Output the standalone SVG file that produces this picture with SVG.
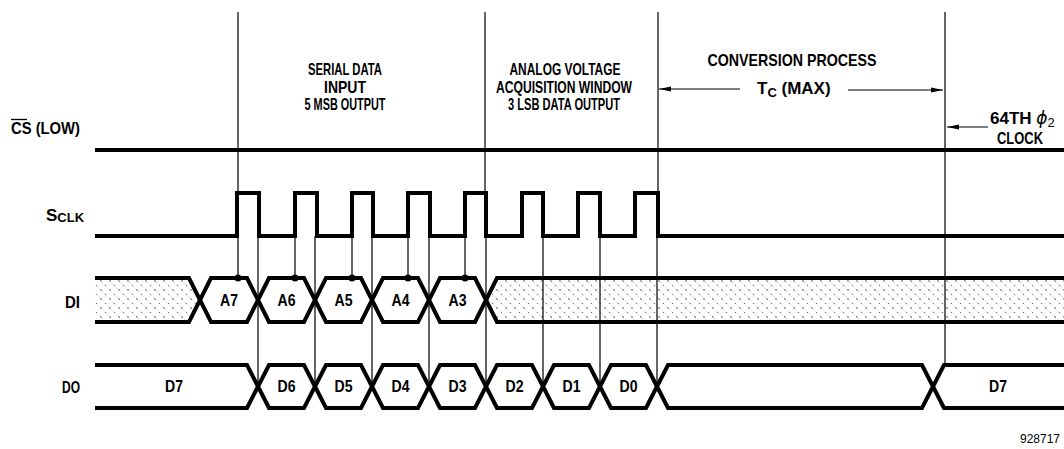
<svg xmlns="http://www.w3.org/2000/svg" width="1064" height="449" viewBox="0 0 1064 449">
<style>
  text { font-family: "Liberation Sans", Arial, sans-serif; font-weight: bold; fill: #000; }
  .t { font-size: 17px; }
  .hx { font-size: 17px; text-anchor: middle; }
  .sig { fill: none; stroke: #000; stroke-width: 4; stroke-linejoin: miter; }
  .bus { stroke: #000; stroke-width: 4; stroke-linejoin: miter; }
  .shade { fill: url(#dots); }
  .thin { stroke: #000; stroke-width: 1.2; fill: none; }
  .arr { stroke: #000; stroke-width: 1.2; fill: none; marker-end: url(#ah); }
  .note { font-family: "Liberation Sans", Arial, sans-serif; font-weight: normal; font-size: 12px; }
</style>
<defs>
  <pattern id="dots" width="9" height="9" patternUnits="userSpaceOnUse">
    <rect width="9" height="9" fill="#fff"/>
    <path d="M0,0 L9,9" stroke="#d0d0d0" stroke-width="0.5"/>
    <circle cx="2" cy="2" r="0.7" fill="#333"/>
    <circle cx="6.5" cy="6.5" r="0.6" fill="#555"/>
  </pattern>
  <marker id="ah" markerWidth="12" markerHeight="6" refX="12" refY="3" orient="auto" markerUnits="userSpaceOnUse">
    <path d="M0,0.5 L12,3 L0,5.5 z" fill="#000"/>
  </marker>
</defs>
<rect width="1064" height="449" fill="#fff"/>

<g id="cs">
  <text class="t" x="11" y="134" textLength="69" lengthAdjust="spacingAndGlyphs">CS (LOW)</text>
  <line x1="11" y1="119.5" x2="27" y2="119.5" stroke="#000" stroke-width="1.3"/>
  <line class="sig" x1="95" y1="150" x2="1064" y2="150"/>
</g>

<g id="sclk">
  <text class="t" x="46" y="221">S<tspan font-size="13" dy="1">CLK</tspan></text>
  <path class="sig" d="M95,236 H237 V193 H259 V236 H295 V193 H317 V236 H352 V193 H373 V236 H408 V193 H430 V236 H465 V193 H486 V236 H522 V193 H543 V236 H578 V193 H600 V236 H635 V193 H658 V236 H1064"/>
</g>

<g id="di">
  <text class="t" x="80" y="308" text-anchor="end" textLength="15" lengthAdjust="spacingAndGlyphs">DI</text>
  <path class="bus shade" d="M95,278 H189 L200,300 L189,322 H95"/>
  <path class="bus shade" d="M1064,278 H497 L486,300 L497,322 H1064"/>
  <path class="bus" fill="#fff" d="M200,300 L211,278 H247 L258,300 L247,322 H211 Z"/>
  <path class="bus" fill="#fff" d="M258,300 L269,278 H304 L315,300 L304,322 H269 Z"/>
  <path class="bus" fill="#fff" d="M315,300 L326,278 H361 L372,300 L361,322 H326 Z"/>
  <path class="bus" fill="#fff" d="M372,300 L383,278 H418 L429,300 L418,322 H383 Z"/>
  <path class="bus" fill="#fff" d="M429,300 L440,278 H475 L486,300 L475,322 H440 Z"/>
  <text class="hx" x="229" y="306" textLength="18" lengthAdjust="spacingAndGlyphs">A7</text>
  <text class="hx" x="286.5" y="306" textLength="18" lengthAdjust="spacingAndGlyphs">A6</text>
  <text class="hx" x="343.5" y="306" textLength="18" lengthAdjust="spacingAndGlyphs">A5</text>
  <text class="hx" x="400.5" y="306" textLength="18" lengthAdjust="spacingAndGlyphs">A4</text>
  <text class="hx" x="457.5" y="306" textLength="18" lengthAdjust="spacingAndGlyphs">A3</text>
</g>

<g id="do">
  <text class="t" x="80" y="393" text-anchor="end" textLength="18" lengthAdjust="spacingAndGlyphs">DO</text>
  <path class="bus" fill="#fff" d="M95,365 H247 L258,386.5 L247,408 H95"/>
  <path class="bus" fill="#fff" d="M258,386.5 L269,365 H304 L315,386.5 L304,408 H269 Z"/>
  <path class="bus" fill="#fff" d="M315,386.5 L326,365 H361 L372,386.5 L361,408 H326 Z"/>
  <path class="bus" fill="#fff" d="M372,386.5 L383,365 H418 L429,386.5 L418,408 H383 Z"/>
  <path class="bus" fill="#fff" d="M429,386.5 L440,365 H475 L486,386.5 L475,408 H440 Z"/>
  <path class="bus" fill="#fff" d="M486,386.5 L497,365 H532 L543,386.5 L532,408 H497 Z"/>
  <path class="bus" fill="#fff" d="M543,386.5 L554,365 H589 L600,386.5 L589,408 H554 Z"/>
  <path class="bus" fill="#fff" d="M600,386.5 L611,365 H646 L657,386.5 L646,408 H611 Z"/>
  <path class="bus" fill="#fff" d="M657,386.5 L668,365 H922 L933,386.5 L922,408 H668 Z"/>
  <path class="bus" fill="#fff" d="M1064,365 H944 L933,386.5 L944,408 H1064"/>
  <text class="hx" x="174" y="392" textLength="18" lengthAdjust="spacingAndGlyphs">D7</text>
  <text class="hx" x="286.5" y="392" textLength="18" lengthAdjust="spacingAndGlyphs">D6</text>
  <text class="hx" x="343.5" y="392" textLength="18" lengthAdjust="spacingAndGlyphs">D5</text>
  <text class="hx" x="400.5" y="392" textLength="18" lengthAdjust="spacingAndGlyphs">D4</text>
  <text class="hx" x="457.5" y="392" textLength="18" lengthAdjust="spacingAndGlyphs">D3</text>
  <text class="hx" x="514.5" y="392" textLength="18" lengthAdjust="spacingAndGlyphs">D2</text>
  <text class="hx" x="571.5" y="392" textLength="18" lengthAdjust="spacingAndGlyphs">D1</text>
  <text class="hx" x="628.5" y="392" textLength="18" lengthAdjust="spacingAndGlyphs">D0</text>
  <text class="hx" x="998" y="392" textLength="18" lengthAdjust="spacingAndGlyphs">D7</text>
</g>

<g id="connectors">
  <path class="thin" d="M238,12 V193 M485,12 V193 M658,12 V193 M945,12 V365"/>
  <path class="thin" d="M238,236 V278 M295,236 V278 M352,236 V278 M408,236 V278 M465,236 V278"/>
  <path class="thin" d="M258,236 V386 M315,236 V386 M372,236 V386 M429,236 V386 M486,236 V386 M543,236 V386 M600,236 V386 M657,236 V386"/>
  <g fill="#000">
    <circle cx="238" cy="278" r="3.5"/>
    <circle cx="295" cy="278" r="3.5"/>
    <circle cx="352" cy="278" r="3.5"/>
    <circle cx="408" cy="278" r="3.5"/>
    <circle cx="465" cy="278" r="3.5"/>
  </g>
  <line class="arr" x1="740" y1="89" x2="659" y2="89"/>
  <line class="arr" x1="848" y1="90" x2="943" y2="90"/>
  <line class="arr" x1="988" y1="127" x2="947" y2="127"/>
</g>

<g id="labels">
  <text class="t" x="345" y="75" text-anchor="middle" textLength="74" lengthAdjust="spacingAndGlyphs">SERIAL DATA</text>
  <text class="t" x="345" y="93" text-anchor="middle" textLength="42" lengthAdjust="spacingAndGlyphs">INPUT</text>
  <text class="t" x="345" y="110" text-anchor="middle" textLength="81" lengthAdjust="spacingAndGlyphs">5 MSB OUTPUT</text>
  <text class="t" x="565" y="75" text-anchor="middle" textLength="111" lengthAdjust="spacingAndGlyphs">ANALOG VOLTAGE</text>
  <text class="t" x="564" y="93" text-anchor="middle" textLength="136" lengthAdjust="spacingAndGlyphs">ACQUISITION WINDOW</text>
  <text class="t" x="564" y="110" text-anchor="middle" textLength="112" lengthAdjust="spacingAndGlyphs">3 LSB DATA OUTPUT</text>
  <text class="t" x="792" y="66" text-anchor="middle" textLength="169" lengthAdjust="spacingAndGlyphs">CONVERSION PROCESS</text>
  <text class="t" x="757" y="94">T<tspan font-size="13" dy="3">C</tspan><tspan dy="-3"> (MAX)</tspan></text>
  <text class="t" x="990" y="124">64TH <tspan font-family="DejaVu Sans, sans-serif" font-style="italic" font-weight="normal">ϕ</tspan><tspan font-size="13" font-weight="normal" dy="3">2</tspan></text>
  <text class="t" x="1020" y="144" text-anchor="middle" textLength="46" lengthAdjust="spacingAndGlyphs">CLOCK</text>
  <text class="note" x="1060" y="443" text-anchor="end">928717</text>
</g>
</svg>
